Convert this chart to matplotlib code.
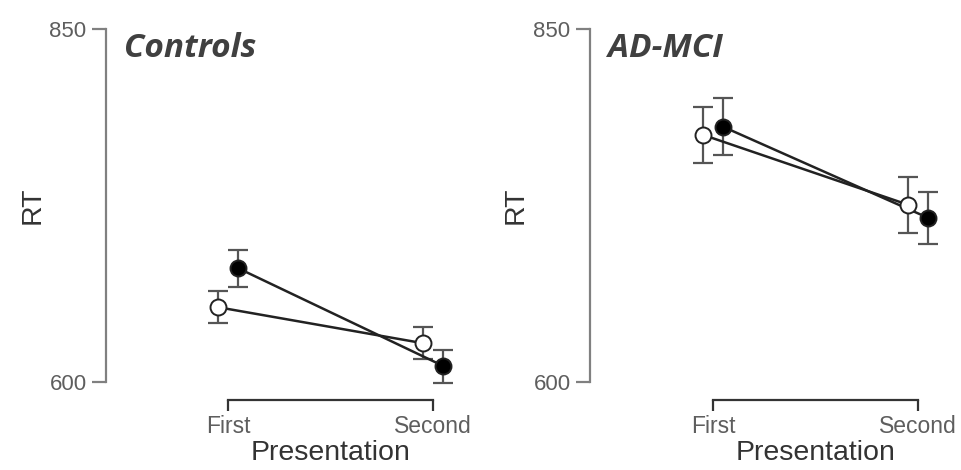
import numpy as np
import matplotlib.pyplot as plt

plt.rcParams['font.family'] = ['Liberation Sans', 'DejaVu Sans']

conditions = ['First', 'Second']
panels = ['Controls', 'AD-MCI']

# open circles / filled circles, one pair per panel
open_mean = {'Controls': [653, 627.5], 'AD-MCI': [775, 725.5]}
open_err = {'Controls': [11.3, 11.3], 'AD-MCI': [19.8, 19.8]}
filled_mean = {'Controls': [680.5, 611.3], 'AD-MCI': [780.6, 716.1]}
filled_err = {'Controls': [13.1, 11.7], 'AD-MCI': [20.2, 18.4]}

fig = plt.figure(figsize=(9.62, 4.70), dpi=100)
lefts = [106 / 962, 590 / 962]
rights = [464 / 962, 949 / 962]
x = np.arange(len(conditions))
dodge = 0.05

for i, name in enumerate(panels):
    ax = fig.add_axes([lefts[i], 1 - 400 / 470, rights[i] - lefts[i], (400 - 26) / 470])
    xl = -0.595 if i == 0 else -0.6
    ax.set_xlim(xl, 1.15)
    ax.set_ylim(587.3, 852)

    for means, errs, face in [(open_mean[name], open_err[name], 'white'),
                              (filled_mean[name], filled_err[name], 'black')]:
        xs = x - dodge if face == 'white' else x + dodge
        ax.errorbar(xs, means, yerr=errs, fmt='none', ecolor='#555555',
                    elinewidth=1.6, capsize=7, capthick=1.6, zorder=2)
        ax.plot(xs, means, color='#222222', lw=1.8, zorder=3)
        ax.plot(xs, means, 'o', ms=11.5, mfc=face, mec='#222222', mew=1.4, zorder=4)

    for s in ['top', 'right']:
        ax.spines[s].set_visible(False)
    ax.spines['left'].set_bounds(600, 850)
    ax.spines['left'].set_color('#808080')
    ax.spines['left'].set_linewidth(1.6)
    ax.spines['bottom'].set_bounds(0, 1)
    ax.spines['bottom'].set_color('#333333')
    ax.spines['bottom'].set_linewidth(1.6)

    ax.set_yticks([600, 850])
    ax.set_xticks(x)
    ax.set_xticklabels(conditions)
    ax.tick_params(axis='y', length=10, width=1.6, color='#808080',
                   labelsize=16, labelcolor='#5e5e5e', pad=4)
    ax.tick_params(axis='x', length=8, width=1.6, color='#333333',
                   labelsize=16.5, labelcolor='#5e5e5e', pad=3)

    ax.set_xlabel('Presentation', fontsize=20.5, color='#333333')
    ax.xaxis.set_label_coords((xl * -1 + 0.5) / (1.15 - xl), -0.108)
    ax.set_ylabel('RT', fontsize=20.5, color='#333333')
    ax.yaxis.set_label_coords(-0.17, 0.52)

    ax.text(0.05, 0.985, name, transform=ax.transAxes, fontsize=24,
            fontweight='bold', fontstyle='italic', family='Open Sans',
            color='#404040', va='top', ha='left')

fig.savefig('out.png', dpi=100)
